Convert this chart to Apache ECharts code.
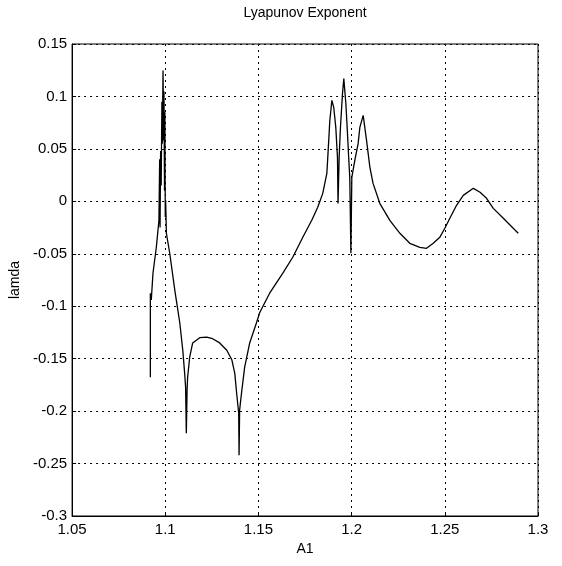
<!DOCTYPE html>
<html>
<head>
<meta charset="utf-8">
<script src="https://cdn.jsdelivr.net/npm/echarts@6/dist/echarts.min.js"></script>
<style>html,body{margin:0;padding:0;background:#fff;}#c{width:562px;height:566px;}</style>
</head>
<body>
<div id="c"></div>
<script>
var titleText = 'Lyapunov Exponent';
var xName = 'A1';
var yName = 'lamda';
var xTicks = [1.05, 1.1, 1.15, 1.2, 1.25, 1.3];
var yTicks = [0.15, 0.1, 0.05, 0, -0.05, -0.1, -0.15, -0.2, -0.25, -0.3];

var a1 = [1.0920,1.0920,1.0925,1.0934,1.0952,1.0966,1.0970,1.0972,1.0975,1.0978,1.0982,1.0984,1.0988,1.0991,1.0993,1.0996,1.0998,1.1000,1.1002,1.1006,1.1024,1.1051,1.1078,1.1094,1.1104,1.1109,1.1113,1.1117,1.1120,1.1131,1.1147,1.1185,1.1222,1.1254,1.1292,1.1330,1.1357,1.1373,1.1383,1.1394,1.1396,1.1399,1.1409,1.1426,1.1453,1.1489,1.1507,1.1560,1.1630,1.1684,1.1738,1.1786,1.1818,1.1845,1.1867,1.1872,1.1883,1.1894,1.1904,1.1915,1.1924,1.1927,1.1933,1.1940,1.1951,1.1958,1.1969,1.1976,1.1985,1.1990,1.1996,1.2001,1.2017,1.2035,1.2044,1.2062,1.2080,1.2098,1.2115,1.2151,1.2205,1.2259,1.2312,1.2366,1.2402,1.2438,1.2473,1.2500,1.2527,1.2563,1.2599,1.2653,1.2689,1.2724,1.2760,1.2814,1.2867,1.2894];
var lamda = [-0.1676,-0.0876,-0.0940,-0.0686,-0.0438,-0.0180,0.0400,-0.0250,0.0480,0.0150,0.0950,0.0550,0.1248,0.0580,0.1050,0.0100,0.0850,-0.0150,0.0010,-0.0305,-0.0495,-0.0847,-0.1160,-0.1420,-0.1640,-0.1770,-0.2210,-0.1800,-0.1676,-0.1486,-0.1350,-0.1300,-0.1295,-0.1310,-0.1350,-0.1420,-0.1510,-0.1640,-0.1830,-0.2020,-0.2420,-0.1990,-0.1830,-0.1580,-0.1350,-0.1160,-0.1060,-0.0876,-0.0686,-0.0533,-0.0343,-0.0181,-0.0057,0.0076,0.0267,0.0419,0.0771,0.0962,0.0895,0.0705,0.0419,-0.0020,0.0419,0.0705,0.1029,0.1170,0.0933,0.0705,0.0390,0.0229,-0.0495,0.0229,0.0390,0.0552,0.0705,0.0819,0.0581,0.0324,0.0171,-0.0019,-0.0181,-0.0305,-0.0400,-0.0438,-0.0448,-0.0400,-0.0343,-0.0257,-0.0162,-0.0038,0.0057,0.0124,0.0086,0.0029,-0.0067,-0.0162,-0.0257,-0.0305];

var data = a1.map(function (x, i) { return [x, lamda[i]]; });
var FONT = 'Liberation Sans';

var chart = echarts.init(document.getElementById('c'), null, {renderer: 'canvas'});
chart.setOption({
  backgroundColor: '#ffffff',
  animation: false,
  grid: {left: 72, right: 24, top: 44, bottom: 50, show: true, borderColor: '#000', borderWidth: 1, backgroundColor: 'transparent'},
  graphic: [{
    type: 'text', x: 305, y: 13,
    style: {text: titleText, font: '14px "Liberation Sans"', fill: '#000', textAlign: 'center', textVerticalAlign: 'middle'}
  }],
  xAxis: {
    type: 'value', min: 1.05, max: 1.3, interval: 0.05,
    name: xName, nameLocation: 'middle', nameGap: 26,
    nameTextStyle: {fontFamily: FONT, fontSize: 14, color: '#000'},
    axisLine: {show: true, onZero: false, lineStyle: {color: '#000', width: 1}},
    axisTick: {show: true, inside: true, length: 4, lineStyle: {color: '#000'}},
    axisLabel: {fontFamily: FONT, fontSize: 15, color: '#000', margin: 6,
      formatter: function (v) { return String(+v.toFixed(2)); }},
    splitLine: {show: true, lineStyle: {color: '#000', type: [2, 4], width: 1}}
  },
  yAxis: {
    type: 'value', min: -0.3, max: 0.15, interval: 0.05,
    name: yName, nameLocation: 'middle', nameGap: 50,
    nameTextStyle: {fontFamily: FONT, fontSize: 14, color: '#000'},
    axisLine: {show: true, onZero: false, lineStyle: {color: '#000', width: 1}},
    axisTick: {show: true, inside: true, length: 4, lineStyle: {color: '#000'}},
    axisLabel: {fontFamily: FONT, fontSize: 15, color: '#000', margin: 5,
      formatter: function (v) { return String(+v.toFixed(2)); }},
    splitLine: {show: true, lineStyle: {color: '#000', type: [2, 4], width: 1}}
  },
  series: [{
    type: 'line', data: data, showSymbol: false, symbol: 'none',
    lineStyle: {color: '#000', width: 1.3}, clip: true
  }]
});
</script>
</body>
</html>
